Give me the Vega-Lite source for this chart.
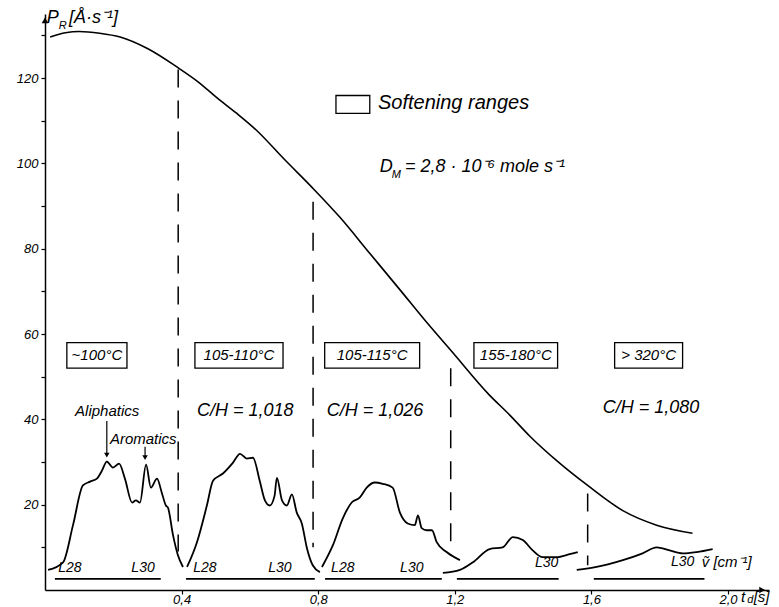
{
  "$schema": "https://vega.github.io/schema/vega-lite/v6.json",
  "width": 724,
  "height": 576,
  "autosize": "none",
  "padding": {"left": 45, "top": 14, "right": 10, "bottom": 17},
  "background": "white",
  "config": {
    "view": {"stroke": null},
    "font": "Liberation Sans",
    "text": {"fontStyle": "italic", "color": "black"},
    "axis": {"grid": false, "domainColor": "black", "domainWidth": 1.5, "tickColor": "black", "tickWidth": 1.2, "labelColor": "black", "labelFontStyle": "italic", "labelFont": "Liberation Sans", "title": null}
  },
  "datasets": {
    "pr": [
      {"t": 0.015, "v": 129.6}, {"t": 0.06, "v": 130.6}, {"t": 0.10, "v": 130.9}, {"t": 0.16, "v": 130.5},
      {"t": 0.22, "v": 129.6}, {"t": 0.30, "v": 126.9}, {"t": 0.386, "v": 122.6}, {"t": 0.45, "v": 119.0},
      {"t": 0.503, "v": 115.4}, {"t": 0.56, "v": 111.8}, {"t": 0.62, "v": 107.7}, {"t": 0.70, "v": 101.0},
      {"t": 0.784, "v": 94.2}, {"t": 0.863, "v": 87.4}, {"t": 0.95, "v": 79.0}, {"t": 1.039, "v": 70.4},
      {"t": 1.12, "v": 62.5}, {"t": 1.19, "v": 56.0}, {"t": 1.30, "v": 45.8}, {"t": 1.361, "v": 41.0},
      {"t": 1.419, "v": 36.1}, {"t": 1.50, "v": 30.2}, {"t": 1.589, "v": 24.5}, {"t": 1.692, "v": 18.6},
      {"t": 1.791, "v": 15.2}, {"t": 1.896, "v": 13.3}
    ],
    "spec": [
      {"seg": 1, "t": 0.009, "v": 4.7}, {"seg": 1, "t": 0.053, "v": 6.5}, {"seg": 1, "t": 0.082, "v": 15.2}, {"seg": 1, "t": 0.111, "v": 24.5},
      {"seg": 1, "t": 0.132, "v": 25.4}, {"seg": 1, "t": 0.152, "v": 26.1}, {"seg": 1, "t": 0.167, "v": 28.0}, {"seg": 1, "t": 0.181, "v": 30.1},
      {"seg": 1, "t": 0.199, "v": 28.7}, {"seg": 1, "t": 0.217, "v": 29.6}, {"seg": 1, "t": 0.234, "v": 26.1}, {"seg": 1, "t": 0.255, "v": 20.5},
      {"seg": 1, "t": 0.266, "v": 21.0}, {"seg": 1, "t": 0.278, "v": 20.5}, {"seg": 1, "t": 0.296, "v": 29.4}, {"seg": 1, "t": 0.31, "v": 24.0},
      {"seg": 1, "t": 0.328, "v": 26.1}, {"seg": 1, "t": 0.342, "v": 22.8}, {"seg": 1, "t": 0.354, "v": 19.8}, {"seg": 1, "t": 0.36, "v": 19.3},
      {"seg": 1, "t": 0.375, "v": 12.8}, {"seg": 1, "t": 0.389, "v": 8.2}, {"seg": 1, "t": 0.404, "v": 5.4},
      {"seg": 2, "t": 0.416, "v": 5.4}, {"seg": 2, "t": 0.445, "v": 11.2}, {"seg": 2, "t": 0.474, "v": 19.8}, {"seg": 2, "t": 0.492, "v": 25.6},
      {"seg": 2, "t": 0.521, "v": 27.3}, {"seg": 2, "t": 0.55, "v": 29.8}, {"seg": 2, "t": 0.571, "v": 31.9}, {"seg": 2, "t": 0.591, "v": 30.8},
      {"seg": 2, "t": 0.609, "v": 31.0}, {"seg": 2, "t": 0.629, "v": 25.5}, {"seg": 2, "t": 0.644, "v": 21.0}, {"seg": 2, "t": 0.658, "v": 19.8},
      {"seg": 2, "t": 0.672, "v": 22.0}, {"seg": 2, "t": 0.679, "v": 26.3}, {"seg": 2, "t": 0.694, "v": 21.0}, {"seg": 2, "t": 0.708, "v": 19.8},
      {"seg": 2, "t": 0.723, "v": 22.4}, {"seg": 2, "t": 0.737, "v": 18.2}, {"seg": 2, "t": 0.752, "v": 15.6}, {"seg": 2, "t": 0.767, "v": 9.8},
      {"seg": 2, "t": 0.784, "v": 5.8}, {"seg": 2, "t": 0.805, "v": 4.2},
      {"seg": 3, "t": 0.811, "v": 5.4}, {"seg": 3, "t": 0.843, "v": 10.5}, {"seg": 3, "t": 0.872, "v": 16.8}, {"seg": 3, "t": 0.898, "v": 20.5},
      {"seg": 3, "t": 0.922, "v": 21.7}, {"seg": 3, "t": 0.942, "v": 24.0}, {"seg": 3, "t": 0.966, "v": 25.2}, {"seg": 3, "t": 0.989, "v": 24.9},
      {"seg": 3, "t": 1.018, "v": 24.0}, {"seg": 3, "t": 1.039, "v": 18.2}, {"seg": 3, "t": 1.062, "v": 15.6}, {"seg": 3, "t": 1.083, "v": 15.2},
      {"seg": 3, "t": 1.092, "v": 17.5}, {"seg": 3, "t": 1.103, "v": 14.5}, {"seg": 3, "t": 1.118, "v": 14.0}, {"seg": 3, "t": 1.133, "v": 14.0},
      {"seg": 3, "t": 1.147, "v": 11.2}, {"seg": 3, "t": 1.176, "v": 8.9}, {"seg": 3, "t": 1.215, "v": 7.0},
      {"seg": 4, "t": 1.165, "v": 4.0}, {"seg": 4, "t": 1.215, "v": 4.7}, {"seg": 4, "t": 1.253, "v": 6.5}, {"seg": 4, "t": 1.302, "v": 9.6},
      {"seg": 4, "t": 1.34, "v": 10.0}, {"seg": 4, "t": 1.37, "v": 12.4}, {"seg": 4, "t": 1.399, "v": 11.7}, {"seg": 4, "t": 1.428, "v": 9.3},
      {"seg": 4, "t": 1.457, "v": 7.7}, {"seg": 4, "t": 1.498, "v": 7.7}, {"seg": 4, "t": 1.536, "v": 8.4}, {"seg": 4, "t": 1.56, "v": 8.9},
      {"seg": 5, "t": 1.557, "v": 4.7}, {"seg": 5, "t": 1.615, "v": 5.4}, {"seg": 5, "t": 1.692, "v": 7.0}, {"seg": 5, "t": 1.75, "v": 8.6},
      {"seg": 5, "t": 1.791, "v": 10.0}, {"seg": 5, "t": 1.829, "v": 9.3}, {"seg": 5, "t": 1.867, "v": 8.6}, {"seg": 5, "t": 1.908, "v": 8.9},
      {"seg": 5, "t": 1.955, "v": 9.6}
    ],
    "dashes": [
      {"t": 0.39, "v1": 9, "v2": 122},
      {"t": 0.785, "v1": 10, "v2": 91},
      {"t": 1.188, "v1": 8, "v2": 52},
      {"t": 1.589, "v1": 5.8, "v2": 22.6}
    ],
    "baselines": [
      {"t1": 0.029, "t2": 0.339, "v": 2.6},
      {"t1": 0.413, "t2": 0.79, "v": 2.6},
      {"t1": 0.82, "t2": 1.162, "v": 2.6},
      {"t1": 1.206, "t2": 1.504, "v": 2.6},
      {"t1": 1.607, "t2": 1.931, "v": 2.6}
    ],
    "boxes": [
      {"x1": 0.064, "x2": 0.24, "y1": 52, "y2": 58, "label": "~100°C"},
      {"x1": 0.439, "x2": 0.697, "y1": 52, "y2": 58, "label": "105-110°C"},
      {"x1": 0.819, "x2": 1.097, "y1": 52, "y2": 58, "label": "105-115°C"},
      {"x1": 1.256, "x2": 1.501, "y1": 52, "y2": 58, "label": "155-180°C"},
      {"x1": 1.668, "x2": 1.867, "y1": 52, "y2": 58, "label": "> 320°C"},
      {"x1": 0.852, "x2": 0.951, "y1": 111.7, "y2": 115.9, "label": ""}
    ],
    "legendtext": [
      {"t": 0.975, "v": 114.2, "label": "Softening ranges"}
    ],
    "bigtext": [
      {"t": 0.98, "v": 99.1, "label": "D"},
      {"t": 1.054, "v": 99.1, "label": "= 2,8 · 10⁻⁶ mole s⁻¹"},
      {"t": 0.445, "v": 42.0, "label": "C/H = 1,018"},
      {"t": 0.825, "v": 42.0, "label": "C/H = 1,026"},
      {"t": 1.633, "v": 42.7, "label": "C/H = 1,080"},
      {"t": 0.005, "v": 134.0, "label": "P"},
      {"t": 0.07, "v": 134.0, "label": "[Å·s⁻¹]"}
    ],
    "subtext": [
      {"t": 1.015, "v": 97.2, "label": "M"},
      {"t": 0.04, "v": 132.2, "label": "R"},
      {"t": 2.056, "v": -2.4, "label": "d"}
    ],
    "midtext": [
      {"t": 1.923, "v": 6.5, "label": "ṽ [cm⁻¹]"},
      {"t": 0.088, "v": 42.0, "label": "Aliphatics"},
      {"t": 0.19, "v": 35.4, "label": "Aromatics"},
      {"t": 2.038, "v": -1.6, "label": "t"},
      {"t": 2.075, "v": -1.6, "label": "[s]"}
    ],
    "llabels": [
      {"t": 0.073, "v": 5.2, "label": "L28"}, {"t": 0.287, "v": 5.2, "label": "L30"},
      {"t": 0.468, "v": 5.2, "label": "L28"}, {"t": 0.688, "v": 5.2, "label": "L30"},
      {"t": 0.872, "v": 5.2, "label": "L28"}, {"t": 1.074, "v": 5.2, "label": "L30"},
      {"t": 1.469, "v": 6.3, "label": "L30"}, {"t": 1.867, "v": 6.5, "label": "L30"}
    ],
    "arrows": [
      {"t": 0.181, "v1": 32.0, "v2": 39.6},
      {"t": 0.293, "v1": 31.3, "v2": 33.6}
    ],
    "heads": [
      {"t": 0.181, "v": 31.6},
      {"t": 0.293, "v": 31.0}
    ],
    "axisheads": [
      {"t": 0.0, "v": 133.5, "dir": "up"},
      {"t": 2.1, "v": 0.0, "dir": "right"}
    ]
  },
  "layer": [
    {
      "data": {"name": "pr"},
      "mark": {"type": "line", "color": "black", "strokeWidth": 1.6, "interpolate": "monotone"},
      "encoding": {
        "x": {"field": "t", "type": "quantitative",
          "scale": {"domain": [0, 2.12], "nice": false, "zero": false},
          "axis": {"values": [0.4, 0.8, 1.2, 1.6, 2.0], "labelExpr": "replace(format(datum.value, '.1f'), '.', ',')", "tickSize": 4, "labelPadding": -1, "labelFontSize": 13}},
        "y": {"field": "v", "type": "quantitative",
          "scale": {"domain": [0, 135], "nice": false, "zero": false},
          "axis": {"values": [10, 20, 30, 40, 50, 60, 70, 80, 90, 100, 110, 120, 130], "labelExpr": "datum.value % 20 === 0 ? datum.label : ''", "tickSize": 4, "labelPadding": 3, "labelFontSize": 13}}
      }
    },
    {
      "data": {"name": "spec"},
      "mark": {"type": "line", "color": "black", "strokeWidth": 1.8, "interpolate": "monotone"},
      "encoding": {
        "x": {"field": "t", "type": "quantitative"},
        "y": {"field": "v", "type": "quantitative"},
        "detail": {"field": "seg", "type": "nominal"}
      }
    },
    {
      "data": {"name": "dashes"},
      "mark": {"type": "rule", "color": "black", "strokeWidth": 1.5, "strokeDash": [18, 13]},
      "encoding": {
        "x": {"field": "t", "type": "quantitative"},
        "y": {"field": "v2", "type": "quantitative"},
        "y2": {"field": "v1"}
      }
    },
    {
      "data": {"name": "baselines"},
      "mark": {"type": "rule", "color": "black", "strokeWidth": 1.6},
      "encoding": {
        "x": {"field": "t1", "type": "quantitative"},
        "x2": {"field": "t2"},
        "y": {"field": "v", "type": "quantitative"}
      }
    },
    {
      "data": {"name": "boxes"},
      "mark": {"type": "rect", "fill": "white", "fillOpacity": 0, "stroke": "black", "strokeWidth": 1.3},
      "encoding": {
        "x": {"field": "x1", "type": "quantitative"},
        "x2": {"field": "x2"},
        "y": {"field": "y1", "type": "quantitative"},
        "y2": {"field": "y2"}
      }
    },
    {
      "data": {"name": "boxes"},
      "transform": [{"calculate": "(datum.x1 + datum.x2) / 2", "as": "xc"}, {"calculate": "(datum.y1 + datum.y2) / 2", "as": "yc"}],
      "mark": {"type": "text", "fontSize": 15, "fontStyle": "italic", "align": "center", "baseline": "middle", "font": "Liberation Sans"},
      "encoding": {
        "x": {"field": "xc", "type": "quantitative"},
        "y": {"field": "yc", "type": "quantitative"},
        "text": {"field": "label"}
      }
    },
    {
      "data": {"name": "legendtext"},
      "mark": {"type": "text", "fontSize": 20, "fontStyle": "italic", "align": "left", "baseline": "middle"},
      "encoding": {
        "x": {"field": "t", "type": "quantitative"},
        "y": {"field": "v", "type": "quantitative"},
        "text": {"field": "label"}
      }
    },
    {
      "data": {"name": "bigtext"},
      "mark": {"type": "text", "fontSize": 18, "fontStyle": "italic", "align": "left", "baseline": "middle"},
      "encoding": {
        "x": {"field": "t", "type": "quantitative"},
        "y": {"field": "v", "type": "quantitative"},
        "text": {"field": "label"}
      }
    },
    {
      "data": {"name": "subtext"},
      "mark": {"type": "text", "fontSize": 11, "fontStyle": "italic", "align": "left", "baseline": "middle"},
      "encoding": {
        "x": {"field": "t", "type": "quantitative"},
        "y": {"field": "v", "type": "quantitative"},
        "text": {"field": "label"}
      }
    },
    {
      "data": {"name": "midtext"},
      "mark": {"type": "text", "fontSize": 15, "fontStyle": "italic", "align": "left", "baseline": "middle"},
      "encoding": {
        "x": {"field": "t", "type": "quantitative"},
        "y": {"field": "v", "type": "quantitative"},
        "text": {"field": "label"}
      }
    },
    {
      "data": {"name": "llabels"},
      "mark": {"type": "text", "fontSize": 14, "fontStyle": "italic", "align": "center", "baseline": "middle"},
      "encoding": {
        "x": {"field": "t", "type": "quantitative"},
        "y": {"field": "v", "type": "quantitative"},
        "text": {"field": "label"}
      }
    },
    {
      "data": {"name": "arrows"},
      "mark": {"type": "rule", "color": "black", "strokeWidth": 1.2},
      "encoding": {
        "x": {"field": "t", "type": "quantitative"},
        "y": {"field": "v2", "type": "quantitative"},
        "y2": {"field": "v1"}
      }
    },
    {
      "data": {"name": "heads"},
      "mark": {"type": "point", "shape": "triangle-down", "filled": true, "color": "black", "size": 30, "opacity": 1},
      "encoding": {
        "x": {"field": "t", "type": "quantitative"},
        "y": {"field": "v", "type": "quantitative"}
      }
    },
    {
      "data": {"name": "axisheads"},
      "mark": {"type": "point", "filled": true, "color": "black", "size": 45, "opacity": 1},
      "encoding": {
        "x": {"field": "t", "type": "quantitative"},
        "y": {"field": "v", "type": "quantitative"},
        "shape": {"field": "dir", "type": "nominal", "scale": {"domain": ["up", "right"], "range": ["triangle-up", "triangle-right"]}, "legend": null}
      }
    }
  ]
}
